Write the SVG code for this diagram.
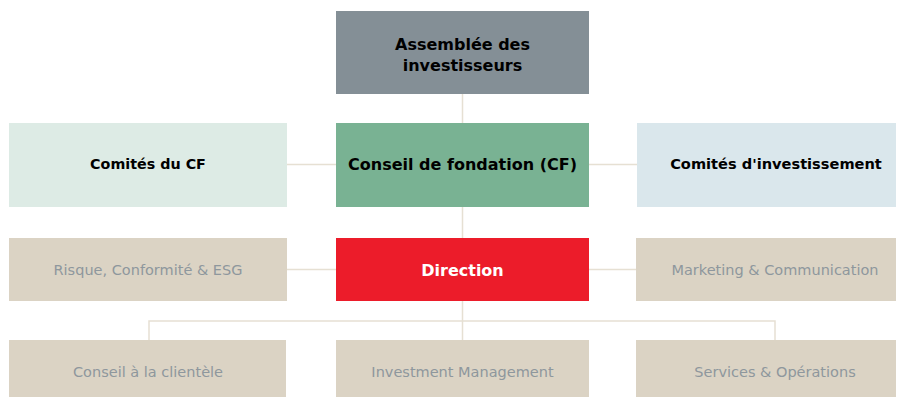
<svg xmlns="http://www.w3.org/2000/svg" width="903" height="397" viewBox="0 0 903 397">
<style>
.lk{stroke:#e6e0d3;stroke-width:1.5;fill:none}
.b{font-family:"DejaVu Sans","Liberation Sans",sans-serif;font-weight:bold;fill:#000;text-anchor:middle}
.r{font-family:"DejaVu Sans","Liberation Sans",sans-serif;fill:#8e979d;text-anchor:middle;font-size:14.5px}
.beige{fill:#dbd3c4}
</style>
<rect width="903" height="397" fill="#fff"/>
<g id="connectors">
<path class="lk" d="M462.5 94V123M287 164.5H336M589 164.5H637M462.5 207V238M287 269.5H336M589 269.5H636M462.5 301V321M149 340V321H775V340M462.5 321V340"/>
</g>
<g id="assemblee"><rect x="336" y="11" width="253" height="83" fill="#848f96"/><text class="b" font-size="16" x="462.5" y="50">Assemblée des</text><text class="b" font-size="16" x="462.5" y="71">investisseurs</text></g>
<g id="cf"><rect x="336" y="123" width="253" height="84" fill="#79b293"/><text class="b" font-size="16" x="462.5" y="170">Conseil de fondation (CF)</text></g>
<g id="comites-cf"><rect x="9" y="123" width="278" height="84" fill="#ddebe5"/><text class="b" font-size="14.3" x="148" y="169">Comités du CF</text></g>
<g id="comites-inv"><rect x="637" y="123" width="259" height="84" fill="#dae7ec"/><text class="b" font-size="14.6" x="776" y="169">Comités d'investissement</text></g>
<g id="risque"><rect class="beige" x="9" y="238" width="278" height="63"/><text class="r" x="148" y="275">Risque, Conformité &amp; ESG</text></g>
<g id="direction"><rect x="336" y="238" width="253" height="63" fill="#ec1c2a"/><text class="b" font-size="16" x="462.5" y="276" style="fill:#fff">Direction</text></g>
<g id="marketing"><rect class="beige" x="636" y="238" width="260" height="63"/><text class="r" x="775" y="275">Marketing &amp; Communication</text></g>
<g id="conseil-clientele"><rect class="beige" x="9" y="340" width="277" height="57"/><text class="r" x="148" y="377">Conseil à la clientèle</text></g>
<g id="investment"><rect class="beige" x="336" y="340" width="253" height="57"/><text class="r" x="462.5" y="377">Investment Management</text></g>
<g id="services"><rect class="beige" x="636" y="340" width="260" height="57"/><text class="r" x="775" y="377">Services &amp; Opérations</text></g>
</svg>
